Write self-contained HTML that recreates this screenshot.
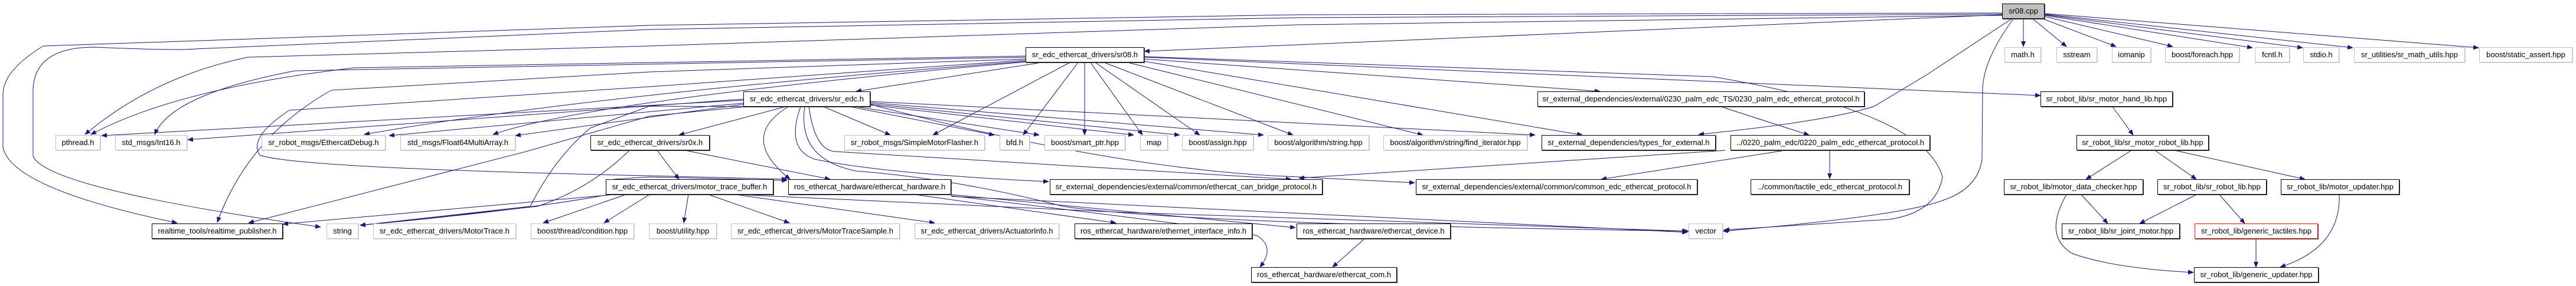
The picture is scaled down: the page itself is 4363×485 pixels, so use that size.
<!DOCTYPE html>
<html><head><meta charset="utf-8"><style>
body{margin:0;width:4363px;height:485px;background:#fff;position:relative;overflow:hidden;font-family:"Liberation Sans",sans-serif}
.n{position:absolute;box-sizing:border-box;height:26px;line-height:24px;font-size:13px;text-align:center;white-space:nowrap;background:#fff;border:1px solid #000;color:#000;overflow:visible;box-shadow:1px 1px 0 #444}
.g{border-color:#bfbfbf;box-shadow:1px 1px 0 #d8d8d8}
svg{position:absolute;left:0;top:0}
</style></head><body>
<svg width="4363" height="485" viewBox="0 0 4363 485">
<defs><marker id="a" markerWidth="10" markerHeight="8" refX="9" refY="4" orient="auto" markerUnits="userSpaceOnUse"><path d="M0,0 L10,4 L0,8z" fill="#191970"/></marker></defs>
<g fill="none" stroke="#191970" stroke-width="1" marker-end="url(#a)" stroke-linejoin="round">
<path d="M3391,22 L2200,25 L1100,43 L73,78 Q5,120 5,160 L5,250 Q20,320 300,378"/>
<path d="M3391,24 L2200,30 L1100,50 L330,83 Q300,86 160,80 Q60,80 56,150 L56,265 Q80,320 543,385"/>
<path d="M3391,26 L2200,42 L1100,78 L420,97 Q260,130 144,228"/>
<path d="M3391,25 L1938,87"/>
<path d="M3410,32 Q3360,100 3358,150 L3357,270 Q3350,320 3290,340 Q3217,367 2918,392"/>
<path d="M3407,32 L3263,127 L3175,180 Q3100,205 2877,228"/>
<path d="M3427,32 L3427,79"/>
<path d="M3443,32 L3500,79"/>
<path d="M3455,30 L3584,79"/>
<path d="M3463,28 L3680,79"/>
<path d="M3463,26 L3815,81"/>
<path d="M3463,25 L3900,81"/>
<path d="M3463,24 L3985,81"/>
<path d="M3463,23 L4198,81"/>
<path d="M1764,106 L1450,155"/>
<path d="M1812,106 L1580,229"/>
<path d="M1826,106 L1733,229"/>
<path d="M1837,106 L1837,229"/>
<path d="M1847,106 L1935,229"/>
<path d="M1855,106 L2032,229"/>
<path d="M1870,106 L2190,229"/>
<path d="M1910,106 L2410,229"/>
<path d="M1938,104 L2680,229"/>
<path d="M1938,100 L2710,155"/>
<path d="M1938,97 L3456,162"/>
<path d="M1938,96 L2900,130 Q3260,190 3290,300 Q3280,360 3200,372 L2920,390"/>
<path d="M1737,95 L600,115 Q300,150 154,228"/>
<path d="M1737,97 L500,120 Q290,160 262,228"/>
<path d="M1737,100 L1100,122 L561,153 Q420,233 368,377"/>
<path d="M1737,102 L1100,147 L490,187 Q420,233 440,263 Q500,285 1100,298 L1333,304"/>
<path d="M1737,104 Q1000,160 617,228"/>
<path d="M1737,105 Q1000,170 835,228"/>
<path d="M1259,168 L318,237"/>
<path d="M1259,170 L172,230"/>
<path d="M1259,175 L659,230"/>
<path d="M1259,177 L873,230"/>
<path d="M1330,181 L1150,229"/>
<path d="M1262,181 L1100,197 L891,257 L421,378"/>
<path d="M1290,181 L1100,180 L1000,217 Q940,267 898,350 L610,382"/>
<path d="M1335,181 Q1250,233 1338,304"/>
<path d="M1395,181 L1508,229"/>
<path d="M1440,181 L1684,229"/>
<path d="M1450,181 L1760,229"/>
<path d="M1474,178 L1920,229"/>
<path d="M1474,176 L1998,229"/>
<path d="M1474,174 L2140,229"/>
<path d="M1474,172 L2600,229"/>
<path d="M1370,181 Q1380,255 1415,257 L2187,304"/>
<path d="M1356,181 Q1330,253 1380,270 Q1500,295 1776,308"/>
<path d="M1363,181 Q1350,270 1450,290 Q1619,303 1801,350 Q2000,380 2860,392"/>
<path d="M1474,177 Q1900,290 2200,300 L2396,310"/>
<path d="M1113,255 L1150,304"/>
<path d="M1160,255 L1406,304"/>
<path d="M1066,255 Q1000,320 910,350 L610,382"/>
<path d="M1040,330 L479,380"/>
<path d="M1030,330 Q900,355 610,382"/>
<path d="M1060,330 L920,378"/>
<path d="M1100,330 L1023,378"/>
<path d="M1166,330 L1158,378"/>
<path d="M1200,330 L1337,378"/>
<path d="M1246,330 L1583,378"/>
<path d="M1040,304 L1100,300 L1333,306"/>
<path d="M1250,330 L1900,360 L2858,392"/>
<path d="M1550,330 L1890,378"/>
<path d="M1611,330 L2194,386"/>
<path d="M1611,332 Q2100,390 2130,400 Q2160,420 2134,453"/>
<path d="M1611,333 L2858,394"/>
<path d="M2311,405 L2257,453"/>
<path d="M2915,181 L3064,229"/>
<path d="M2922,255 L2200,302"/>
<path d="M3023,255 L2712,304"/>
<path d="M3099,255 L3099,303"/>
<path d="M3578,181 L3613,229"/>
<path d="M3610,255 L3533,304"/>
<path d="M3650,255 L3720,304"/>
<path d="M3683,255 L3904,304"/>
<path d="M3525,330 L3570,379"/>
<path d="M3500,330 Q3460,400 3510,430 Q3580,455 3715,462"/>
<path d="M3720,330 L3624,379"/>
<path d="M3759,330 L3802,379"/>
<path d="M3962,330 Q3965,420 3862,453"/>
<path d="M3821,405 L3821,453"/>
</g></svg>

<div class="n" style="left:3391px;top:6px;width:72px;background:#bfbfbf">sr08.cpp</div>
<div class="n g" style="left:3395px;top:80px;width:62px">math.h</div>
<div class="n g" style="left:3483px;top:80px;width:69px">sstream</div>
<div class="n g" style="left:3577px;top:80px;width:66px">iomanip</div>
<div class="n g" style="left:3667px;top:80px;width:126px">boost/foreach.hpp</div>
<div class="n g" style="left:3819px;top:80px;width:59px">fcntl.h</div>
<div class="n g" style="left:3901px;top:80px;width:61px">stdio.h</div>
<div class="n g" style="left:3987px;top:80px;width:188px">sr_utilities/sr_math_utils.hpp</div>
<div class="n g" style="left:4199px;top:80px;width:158px">boost/static_assert.hpp</div>
<div class="n" style="left:1737px;top:80px;width:201px">sr_edc_ethercat_drivers/sr08.h</div>

<div class="n" style="left:1259px;top:155px;width:215px">sr_edc_ethercat_drivers/sr_edc.h</div>
<div class="n" style="left:2604px;top:155px;width:554px">sr_external_dependencies/external/0230_palm_edc_TS/0230_palm_edc_ethercat_protocol.h</div>
<div class="n" style="left:3456px;top:155px;width:224px">sr_robot_lib/sr_motor_hand_lib.hpp</div>

<div class="n g" style="left:94px;top:229px;width:76px">pthread.h</div>
<div class="n g" style="left:195px;top:229px;width:122px">std_msgs/Int16.h</div>
<div class="n g" style="left:443px;top:229px;width:210px">sr_robot_msgs/EthercatDebug.h</div>
<div class="n g" style="left:678px;top:229px;width:195px">std_msgs/Float64MultiArray.h</div>
<div class="n" style="left:1000px;top:229px;width:202px">sr_edc_ethercat_drivers/sr0x.h</div>
<div class="n g" style="left:1430px;top:229px;width:238px">sr_robot_msgs/SimpleMotorFlasher.h</div>
<div class="n g" style="left:1693px;top:229px;width:51px">bfd.h</div>
<div class="n g" style="left:1769px;top:229px;width:137px">boost/smart_ptr.hpp</div>
<div class="n g" style="left:1931px;top:229px;width:47px">map</div>
<div class="n g" style="left:2002px;top:229px;width:121px">boost/assign.hpp</div>
<div class="n g" style="left:2147px;top:229px;width:172px">boost/algorithm/string.hpp</div>
<div class="n g" style="left:2343px;top:229px;width:244px">boost/algorithm/string/find_iterator.hpp</div>
<div class="n" style="left:2611px;top:229px;width:295px">sr_external_dependencies/types_for_external.h</div>
<div class="n" style="left:2931px;top:229px;width:338px">../0220_palm_edc/0220_palm_edc_ethercat_protocol.h</div>
<div class="n" style="left:3517px;top:229px;width:224px">sr_robot_lib/sr_motor_robot_lib.hpp</div>

<div class="n" style="left:1026px;top:304px;width:284px">sr_edc_ethercat_drivers/motor_trace_buffer.h</div>
<div class="n" style="left:1335px;top:304px;width:276px">ros_ethercat_hardware/ethercat_hardware.h</div>
<div class="n" style="left:1778px;top:304px;width:462px">sr_external_dependencies/external/common/ethercat_can_bridge_protocol.h</div>
<div class="n" style="left:2398px;top:304px;width:477px">sr_external_dependencies/external/common/common_edc_ethercat_protocol.h</div>
<div class="n" style="left:2965px;top:304px;width:269px">../common/tactile_edc_ethercat_protocol.h</div>
<div class="n" style="left:3394px;top:304px;width:236px">sr_robot_lib/motor_data_checker.hpp</div>
<div class="n" style="left:3654px;top:304px;width:185px">sr_robot_lib/sr_robot_lib.hpp</div>
<div class="n" style="left:3863px;top:304px;width:201px">sr_robot_lib/motor_updater.hpp</div>

<div class="n" style="left:257px;top:379px;width:222px">realtime_tools/realtime_publisher.h</div>
<div class="n g" style="left:553px;top:379px;width:54px">string</div>
<div class="n g" style="left:632px;top:379px;width:242px">sr_edc_ethercat_drivers/MotorTrace.h</div>
<div class="n g" style="left:899px;top:379px;width:175px">boost/thread/condition.hpp</div>
<div class="n g" style="left:1099px;top:379px;width:115px">boost/utility.hpp</div>
<div class="n g" style="left:1238px;top:379px;width:286px">sr_edc_ethercat_drivers/MotorTraceSample.h</div>
<div class="n g" style="left:1549px;top:379px;width:245px">sr_edc_ethercat_drivers/ActuatorInfo.h</div>
<div class="n" style="left:1820px;top:379px;width:301px">ros_ethercat_hardware/ethernet_interface_info.h</div>
<div class="n" style="left:2196px;top:379px;width:261px">ros_ethercat_hardware/ethercat_device.h</div>
<div class="n g" style="left:2860px;top:379px;width:58px">vector</div>
<div class="n" style="left:3492px;top:379px;width:200px">sr_robot_lib/sr_joint_motor.hpp</div>
<div class="n" style="left:3717px;top:379px;width:209px;border-color:#f00">sr_robot_lib/generic_tactiles.hpp</div>

<div class="n" style="left:2119px;top:453px;width:247px">ros_ethercat_hardware/ethercat_com.h</div>
<div class="n" style="left:3716px;top:453px;width:211px">sr_robot_lib/generic_updater.hpp</div>
</body></html>
